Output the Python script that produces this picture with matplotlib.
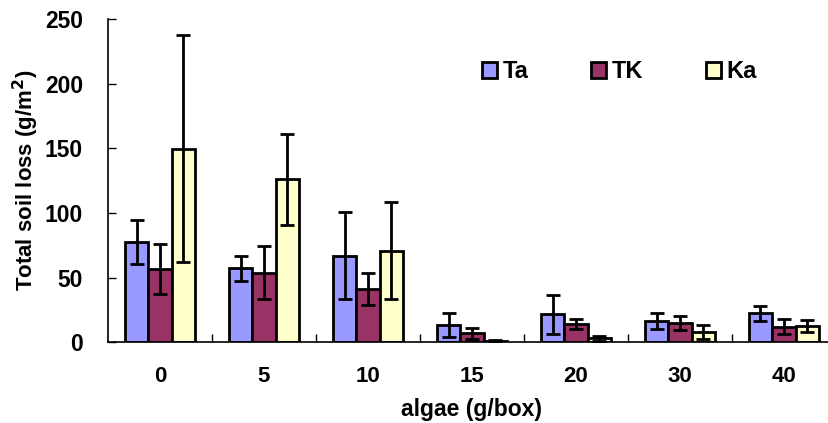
import numpy as np
import matplotlib
matplotlib.use('Agg')
import matplotlib.pyplot as plt

# --- データ ---
categories = ['0', '5', '10', '15', '20', '30', '40']
series_names = ['Ta', 'TK', 'Ka']

ta_mean = [77.9, 57.3, 67.0, 13.4, 21.7, 16.5, 22.4]
ta_err = [17.0, 9.5, 33.8, 9.4, 15.2, 6.2, 5.7]
tk_mean = [56.5, 53.9, 41.0, 7.0, 14.2, 14.7, 12.1]
tk_err = [19.3, 20.6, 12.5, 4.4, 4.0, 5.5, 5.8]
ka_mean = [149.8, 126.1, 70.9, 1.3, 3.1, 7.7, 12.6]
ka_err = [88.0, 35.0, 37.6, 0.5, 2.0, 5.5, 4.6]

colors = ['#9999FF', '#993366', '#FFFFCC']

plt.rcParams['font.family'] = ['Liberation Sans', 'DejaVu Sans']
plt.rcParams['font.weight'] = 'bold'

fig = plt.figure(figsize=(8.29, 4.23), dpi=100)
ax = fig.add_axes([0.1303, 0.1908, 0.878, 0.7636])

x = np.arange(len(categories))
bar_w = 0.225
means = [ta_mean, tk_mean, ka_mean]
errs = [ta_err, tk_err, ka_err]

for i, (name, m, e, c) in enumerate(zip(series_names, means, errs, colors)):
    pos = x + (i - 1) * bar_w
    ax.bar(pos, m, width=bar_w, color=c, edgecolor='black', linewidth=2.0,
           label=name, zorder=2)
    ax.errorbar(pos, m, yerr=e, fmt='none', ecolor='black', elinewidth=2.0,
                capsize=5.2, capthick=2.0, zorder=3)

ax.set_xlim(-0.5, len(categories) - 0.5)
ax.set_ylim(0, 250)
ax.set_yticks(np.arange(0, 251, 50))

# 区切りの目盛り（グループ間）
ax.set_xticks(x)
ax.set_xticklabels(categories)
ax.set_xticks(x[:-1] + 0.5, minor=True)
ax.tick_params(axis='x', which='major', length=0, pad=17, labelsize=16)
ax.tick_params(axis='x', which='minor', direction='in', length=6, width=1)
ax.tick_params(axis='y', direction='in', length=6, width=1, pad=18, labelsize=16.5)

for s in ['top', 'right']:
    ax.spines[s].set_visible(False)
for s in ['left', 'bottom']:
    ax.spines[s].set_linewidth(1.2)

ax.set_ylabel('Total soil loss (g/m$^{\\mathbf{2}}$)', fontsize=16,
              fontweight='bold', labelpad=3)
ax.set_xlabel('algae (g/box)', fontsize=16.5, fontweight='bold', labelpad=8)

leg = ax.legend(loc='center left', bbox_to_anchor=(482 / 829, 1 - 72 / 423),
                bbox_transform=fig.transFigure, ncol=3, frameon=False,
                fontsize=17, handlelength=0.64, handleheight=0.64,
                handletextpad=0.25, columnspacing=2.63, borderpad=0,
                borderaxespad=0)

fig.savefig('out.png', dpi=100)
